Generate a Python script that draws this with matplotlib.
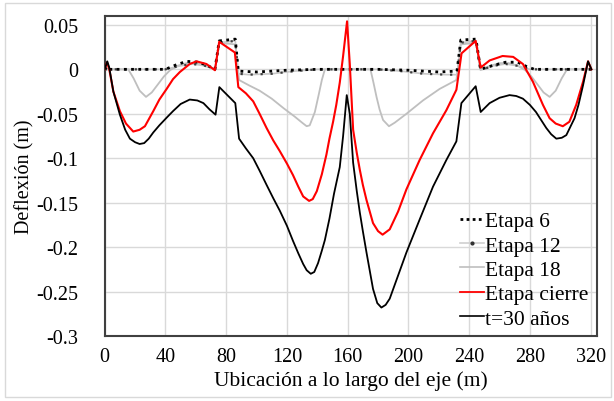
import matplotlib
matplotlib.use("Agg")
import matplotlib.pyplot as plt
from matplotlib.lines import Line2D
from matplotlib.patches import Rectangle
from matplotlib.ticker import FuncFormatter

plt.rcParams["font.family"] = ["Liberation Serif", "DejaVu Serif"]
plt.rcParams["axes.unicode_minus"] = False

# --- data (x in m, deflection in m) ---
x_e6 = [0, 1.5, 3, 40, 47, 54, 62, 68, 72.6, 75.4, 86, 88, 100, 120, 140,
        160, 180, 200, 220, 232, 234.5, 244.5, 247.5, 255, 264, 272, 278,
        283, 320.5]
y_e6 = [0, 0.003, 0, 0, 0.005, 0.009, 0.008, 0.004, 0, 0.032, 0.034, -0.002,
        -0.003, -0.001, 0, 0, 0, -0.001, -0.003, -0.002, 0.033, 0.034, 0,
        0.004, 0.008, 0.008, 0.003, 0, 0]

x_e12 = [0, 40, 50, 58, 66, 72.6, 75.4, 86, 88, 95, 110, 125, 140, 180, 195,
         210, 225, 232, 234.5, 244.5, 247.5, 256, 264, 272, 280, 320.5]
y_e12 = [0, 0, 0.004, 0.006, 0.004, 0, 0.030, 0.032, -0.005, -0.006, -0.005,
         -0.002, 0, 0, -0.002, -0.005, -0.006, -0.006, 0.030, 0.032, -0.001,
         0.004, 0.006, 0.004, 0, 0]

x_e18 = [0, 15.5, 19, 23, 27.2, 31, 35, 39, 43, 48, 54, 60.5, 66, 72.6, 75.4,
         86, 88.5, 95, 102, 110, 118, 125, 130, 133, 135, 138.4, 141, 143, 145,
         160, 175, 177, 179, 181, 183.3, 187.2, 191, 198.7, 209.6, 220.6,
         231.6, 234.5, 244.5, 247.5, 254, 260, 266, 272, 277, 281, 285, 289,
         293, 297, 301, 304.5, 320.5]
y_e18 = [0, 0, -0.010, -0.024, -0.031, -0.026, -0.017, -0.008, -0.001, 0.004,
         0.007, 0.007, 0.004, 0, 0.030, 0.028, -0.012, -0.018, -0.024, -0.033,
         -0.044, -0.053, -0.060, -0.064, -0.063, -0.048, -0.028, -0.012, 0,
         0, 0, -0.015, -0.031, -0.045, -0.057, -0.064, -0.060, -0.050, -0.035,
         -0.022, -0.012, 0.028, 0.030, 0, 0.004, 0.007, 0.007, 0.004, -0.001,
         -0.008, -0.017, -0.026, -0.031, -0.024, -0.010, 0, 0]

x_cierre = [0, 1.5, 3, 5.7, 10, 14, 18.8, 23, 26.5, 32, 36, 40.8, 45, 49.5,
            56, 60.5, 67, 72.6, 75.4, 85.7, 88, 93, 97.8, 102, 106.6, 111,
            115.3, 120, 124, 127.5, 130.7, 134.6, 137, 139.7, 143, 146, 148,
            150.4, 152.5, 154.8, 157, 159.6, 161.4, 163.6, 166, 168, 170,
            172.4, 176.7, 180, 183, 187.7, 193.2, 198.7, 207.4, 216.2, 225,
            231.6, 235, 244.3, 247.6, 253.5, 262, 269, 275.4, 282, 288.6, 293,
            297, 301.7, 306, 310.5, 315, 318.3, 320.5]
y_cierre = [0, 0.008, 0, -0.025, -0.047, -0.061, -0.070, -0.068, -0.064,
            -0.047, -0.034, -0.022, -0.011, -0.003, 0.006, 0.009, 0.006,
            -0.001, 0.031, 0.019, -0.020, -0.027, -0.036, -0.050, -0.066,
            -0.080, -0.092, -0.106, -0.119, -0.132, -0.143, -0.148, -0.146,
            -0.137, -0.118, -0.096, -0.078, -0.059, -0.040, -0.015, 0.015,
            0.054, 0.006, -0.068, -0.094, -0.113, -0.130, -0.147, -0.173,
            -0.182, -0.186, -0.180, -0.160, -0.135, -0.102, -0.072, -0.046,
            -0.023, 0.018, 0.032, 0.002, 0.010, 0.015, 0.014, 0.006, -0.014,
            -0.040, -0.055, -0.061, -0.064, -0.059, -0.040, -0.014, 0.009, 0]

x_t30 = [0, 1.7, 3, 5.7, 10, 13.5, 16.6, 20, 23, 26, 29, 32, 36, 41, 45, 50,
         56, 61, 65, 69, 73, 75.5, 86, 88.5, 93, 97.8, 102, 106.6, 111, 115.3,
         120, 124, 127.5, 130.7, 133, 135.7, 138, 140.5, 143, 145, 148, 151,
         154.8, 157, 159.4, 161.4, 163.6, 166, 168, 170, 172.4, 176.7, 179.5,
         182.2, 185, 187.7, 193.2, 198.7, 207.4, 216.2, 225, 231.6, 234.9,
         244.3, 247.6, 253.5, 260, 266.6, 271, 275.4, 280, 284, 290.8, 294,
         297.4, 301, 304, 309.4, 312, 315, 318.3, 320.5]
y_t30 = [0, 0.009, 0.002, -0.025, -0.051, -0.068, -0.078, -0.082, -0.084,
         -0.083, -0.078, -0.071, -0.063, -0.054, -0.047, -0.039, -0.034,
         -0.035, -0.038, -0.045, -0.051, -0.020, -0.038, -0.078, -0.089,
         -0.100, -0.114, -0.130, -0.145, -0.159, -0.176, -0.193, -0.207,
         -0.219, -0.226, -0.230, -0.228, -0.218, -0.204, -0.192, -0.168,
         -0.140, -0.110, -0.075, -0.029, -0.050, -0.105, -0.137, -0.161,
         -0.182, -0.206, -0.247, -0.263, -0.268, -0.265, -0.258, -0.232,
         -0.206, -0.169, -0.132, -0.102, -0.081, -0.038, -0.019, -0.048,
         -0.038, -0.032, -0.029, -0.030, -0.033, -0.040, -0.048, -0.066,
         -0.073, -0.078, -0.077, -0.074, -0.055, -0.040, -0.018, 0.009, 0]

labels = ["Etapa 6", "Etapa 12", "Etapa 18", "Etapa cierre", "t=30 años"]
x_ticks = [0, 40, 80, 120, 160, 200, 240, 280, 320]
y_ticks = [0.05, 0, -0.05, -0.1, -0.15, -0.2, -0.25, -0.3]

fig = plt.figure(figsize=(6.14, 4.02), dpi=100)
W, H = 614, 402
ax = fig.add_axes([104.7 / W, 1 - 337 / H, 492 / W, 320 / H])

# outer chart border (Excel-style)
fig.patches.append(Rectangle((5 / W, 4 / H), 606 / W, 394 / H,
                             transform=fig.transFigure, fill=False,
                             ec="#d9d9d9", lw=1))

gray18 = "#bfbfbf"
ax.plot(x_e18, y_e18, color=gray18, lw=1.3, zorder=3)
ax.plot(x_e12, y_e12, color="#c8c8c8", lw=1.2, zorder=3)
ax.plot(x_e12, y_e12, color="#404040", lw=1.6, ls=(0, (1, 3.5)), zorder=4)
ax.plot(x_e6, y_e6, color="black", lw=2.0, ls=(0, (1, 1.6)), zorder=5)
ax.plot(x_cierre, y_cierre, color="#ff0000", lw=1.5, zorder=6)
ax.plot(x_t30, y_t30, color="black", lw=1.3, zorder=6)

ax.set_xlim(0, 324)
ax.set_ylim(-0.3, 0.06)
ax.set_xticks(x_ticks)
ax.set_yticks(y_ticks)
ax.yaxis.set_major_formatter(FuncFormatter(lambda v, p: f"{v:g}"))
ax.grid(True, color="#d9d9d9", lw=1)
ax.set_axisbelow(True)
ax.tick_params(length=0, labelsize=14.5)
ax.tick_params(axis="y", pad=19)
ax.tick_params(axis="x", pad=8)
for s in ax.spines.values():
    s.set_color("#404040")
    s.set_linewidth(1.5)

ax.set_xlabel("Ubicación a lo largo del eje (m)", fontsize=15.5, labelpad=3)
ax.set_ylabel("Deflexión (m)", fontsize=14.5, labelpad=1)

handles = [
    Line2D([], [], color="black", lw=2.0, ls=(0, (1, 1.2))),
    Line2D([], [], color="#d0d0d0", lw=1.2, marker="o", ms=2,
           mfc="#303030", mec="#303030"),
    Line2D([], [], color=gray18, lw=1.2),
    Line2D([], [], color="#ff0000", lw=1.3),
    Line2D([], [], color="black", lw=1.2),
]
ax.legend(handles, labels, loc="upper left", bbox_to_anchor=(0.722, 0.39),
          frameon=False, fontsize=15.5, borderpad=0, borderaxespad=0,
          handlelength=1.1, handletextpad=0.05, labelspacing=0.2,
          numpoints=1)

fig.savefig("out.png", dpi=100)
